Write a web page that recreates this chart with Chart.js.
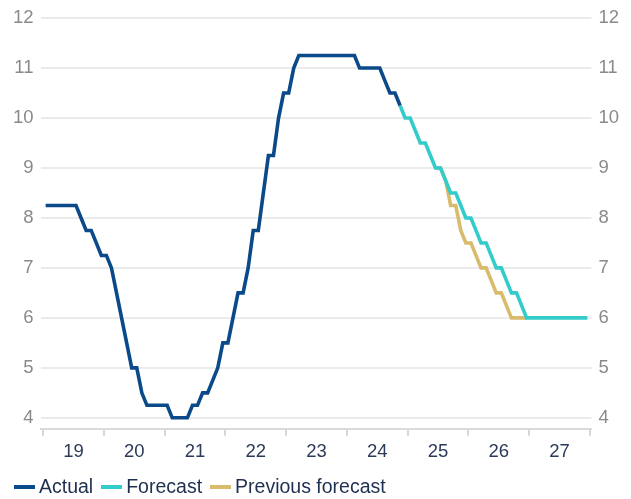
<!DOCTYPE html>
<html>
<head>
<meta charset="utf-8">
<script src="https://cdn.jsdelivr.net/npm/chart.js@4/dist/chart.umd.min.js"></script>
<style>
  html, body { margin: 0; padding: 0; background: #ffffff; }
  #wrap { position: relative; width: 631px; height: 499px; }
  #chart { position: absolute; left: 0; top: 0; }
  #legend {
    position: absolute; left: 14px; top: 475px;
    display: flex; align-items: center;
    font-family: "Liberation Sans", Arial, sans-serif; font-size: 19.5px; color: #1f2f4f;
    white-space: nowrap;
  }
  .item { display: flex; align-items: center; margin-right: 8px; }
  .swatch { width: 21px; height: 4px; margin-right: 4px; }
</style>
</head>
<body>
<div id="wrap">
  <canvas id="chart" width="631" height="499"></canvas>
  <div id="legend"></div>
</div>
<script>
// Monthly policy rate, month index 0 = Jan 2019
const yearLabels = ['19', '20', '21', '22', '23', '24', '25', '26', '27'];
const yTicks = [4, 5, 6, 7, 8, 9, 10, 11, 12];

const actualStart = 0;
const actual = [
  8.25, 8.25, 8.25, 8.25, 8.25, 8.25, 8.25, 8.0, 7.75, 7.75, 7.5, 7.25,
  7.25, 7.0, 6.5, 6.0, 5.5, 5.0, 5.0, 4.5, 4.25, 4.25, 4.25, 4.25,
  4.25, 4.0, 4.0, 4.0, 4.0, 4.25, 4.25, 4.5, 4.5, 4.75, 5.0, 5.5,
  5.5, 6.0, 6.5, 6.5, 7.0, 7.75, 7.75, 8.5, 9.25, 9.25, 10.0, 10.5,
  10.5, 11.0, 11.25, 11.25, 11.25, 11.25, 11.25, 11.25, 11.25, 11.25, 11.25, 11.25,
  11.25, 11.25, 11.0, 11.0, 11.0, 11.0, 11.0, 10.75, 10.5, 10.5, 10.25
];

const forecastStart = 70;
const forecast = [
  10.25, 10.0, 10.0, 9.75, 9.5, 9.5, 9.25, 9.0, 9.0, 8.75, 8.5, 8.5, 8.25, 8.0, 8.0,
  7.75, 7.5, 7.5, 7.25, 7.0, 7.0, 6.75, 6.5, 6.5, 6.25,
  6.0, 6.0, 6.0, 6.0, 6.0, 6.0, 6.0, 6.0, 6.0, 6.0, 6.0, 6.0, 6.0
];

const previousStart = 77;
const previous = [
  9.0, 9.0, 8.75, 8.25, 8.25, 7.75, 7.5, 7.5, 7.25, 7.0, 7.0, 6.75, 6.5, 6.5, 6.25,
  6.0, 6.0, 6.0, 6.0
];

const toPoints = (vals, start) => vals.map((v, i) => ({ x: start + i, y: v }));

const FONT = '"Liberation Sans", Arial, sans-serif';
const isBoundary = v => Math.abs(((v + 0.5) % 12)) < 1e-6;

const datasets = [
  { label: 'Actual', data: toPoints(actual, actualStart), borderColor: '#0b4a89' },
  { label: 'Forecast', data: toPoints(forecast, forecastStart), borderColor: '#33cccb' },
  { label: 'Previous forecast', data: toPoints(previous, previousStart), borderColor: '#d9bb6c' }
].map(d => Object.assign(d, {
  borderWidth: 3.6, pointRadius: 0, tension: 0, fill: false, yAxisID: 'y'
}));

const yAxis = (position) => ({
  type: 'linear', position, min: 3.78, max: 12,
  afterBuildTicks: s => { s.ticks = yTicks.map(v => ({ value: v })); },
  border: { display: false },
  grid: {
    display: true, drawOnChartArea: position === 'left', drawTicks: false,
    color: '#ebebeb', lineWidth: 2
  },
  ticks: {
    padding: 7, color: '#8a8a8a',
    font: { family: FONT, size: 18.5 },
    callback: v => String(v)
  }
});

const chart = new Chart(document.getElementById('chart'), {
  type: 'line',
  data: { datasets },
  options: {
    responsive: false,
    animation: false,
    layout: { padding: { left: 6, right: 5, top: 11, bottom: 31 } },
    plugins: { legend: { display: false }, tooltip: { enabled: false } },
    scales: {
      x: {
        type: 'linear', min: -1.0, max: 107.8,
        afterBuildTicks: s => {
          const t = [];
          for (let i = 0; i <= yearLabels.length; i++) t.push({ value: i * 12 - 0.5 });
          for (let i = 0; i < yearLabels.length; i++) t.push({ value: i * 12 + 5.5 });
          t.sort((a, b) => a.value - b.value);
          s.ticks = t;
        },
        border: { display: true, color: '#dadada', width: 2 },
        grid: {
          drawOnChartArea: false, drawTicks: true, tickLength: 7, lineWidth: 2,
          color: ctx => (ctx.tick && isBoundary(ctx.tick.value)) ? '#d6d6d6' : 'rgba(0,0,0,0)'
        },
        ticks: {
          autoSkip: false, maxRotation: 0, padding: 5, color: '#2b3a58',
          font: { family: FONT, size: 18.5 },
          callback: v => {
            const k = (v - 5.5) / 12;
            return Number.isInteger(k) ? yearLabels[k] : '';
          }
        }
      },
      y: yAxis('left'),
      y2: yAxis('right')
    }
  }
});

// Legend built from the chart's datasets
const legend = document.getElementById('legend');
chart.data.datasets.forEach(ds => {
  const item = document.createElement('div');
  item.className = 'item';
  const sw = document.createElement('span');
  sw.className = 'swatch';
  sw.style.background = ds.borderColor;
  const tx = document.createElement('span');
  tx.textContent = ds.label;
  item.appendChild(sw);
  item.appendChild(tx);
  legend.appendChild(item);
});
</script>
</body>
</html>
